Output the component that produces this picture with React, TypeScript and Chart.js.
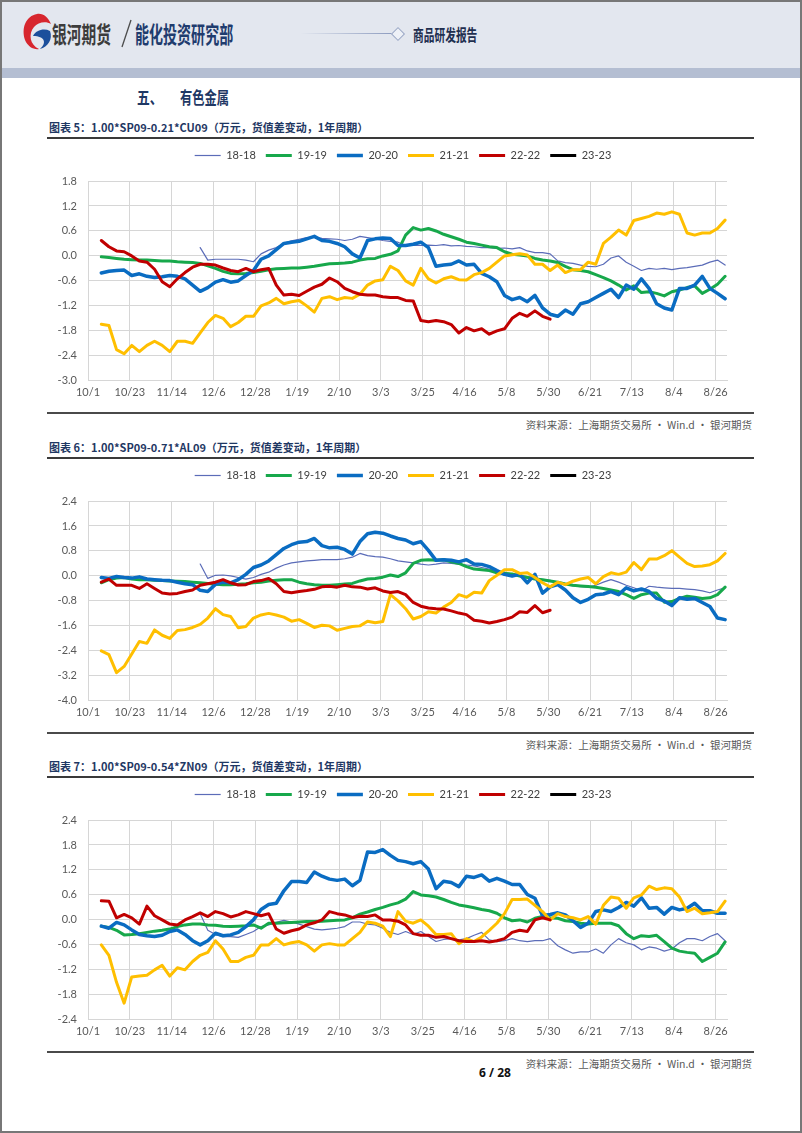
import React, { useEffect, useRef } from "react";
import { Chart, registerables } from "chart.js";

Chart.register(...registerables);

// ---------------- axis data ----------------
// trading-day sample positions, counted in days from 10/1
const DAYS = [
  7, 11, 15, 19, 23, 27, 31, 35, 39, 43,
  47, 51, 55, 59, 63, 67, 71, 75, 79, 83,
  87, 91, 95, 99, 103, 107, 111, 115, 119, 123,
  127, 131, 135, 139, 143, 147, 151, 155, 159, 163,
  167, 171, 175, 179, 183, 187, 191, 195, 199, 203,
  207, 211, 215, 219, 223, 227, 231, 235, 239, 243,
  247, 251, 255, 259, 263, 267, 271, 275, 279, 283,
  287, 291, 295, 299, 303, 307, 311, 315, 319, 323,
  327, 331, 335,
];
const X_TICK_DAYS = [0, 22, 44, 66, 88, 110, 132, 154, 176, 198, 220, 242, 264, 286, 308, 330];
const X_TICK_LABELS = ["10/1", "10/23", "11/14", "12/6", "12/28", "1/19", "2/10", "3/3", "3/25", "4/16", "5/8", "5/30", "6/21", "7/13", "8/4", "8/26"];
const X_MAX = 336;

const CU_Y_TICKS = [-3.0, -2.4, -1.8, -1.2, -0.6, 0.0, 0.6, 1.2, 1.8];
const AL_Y_TICKS = [-4.0, -3.2, -2.4, -1.6, -0.8, 0.0, 0.8, 1.6, 2.4];
const ZN_Y_TICKS = [-2.4, -1.8, -1.2, -0.6, 0.0, 0.6, 1.2, 1.8, 2.4];

const SERIES_NAMES = ["18-18", "19-19", "20-20", "21-21", "22-22", "23-23"];
const SERIES_COLORS = ["#5b6cb8", "#17a84b", "#0a6cc2", "#ffbf00", "#c00000", "#000000"];
const SERIES_WIDTHS = [1.2, 3, 3.5, 3, 3, 3];

// ---------------- chart 5: SP09 - 0.21*CU09 ----------------
const CU_1818 = [
  null, null, null, null, null, null, null, null, null, null, null, null, null,
  0.20, -0.10, -0.08, -0.08, -0.08, -0.08, -0.10, -0.14, 0.05, 0.14,
  0.20, 0.30, 0.36, 0.40, 0.44, 0.45, 0.42, 0.41, 0.40, 0.37,
  0.40, 0.47, 0.44, 0.41, 0.37, 0.35, 0.33, 0.25, 0.25, 0.25,
  0.26, 0.25, 0.27, 0.24, 0.25, 0.23, 0.22, 0.20, 0.20, 0.18,
  0.19, 0.17, 0.20, 0.12, 0.08, 0.08, 0.05, -0.12, -0.16, -0.18,
  -0.22, -0.25, -0.26, -0.20, -0.05, 0.00, -0.15, -0.25, -0.35, -0.30,
  -0.32, -0.30, -0.33, -0.30, -0.28, -0.25, -0.22, -0.15, -0.10, -0.22,
];
const CU_1919 = [
  -0.02, -0.04, -0.06, -0.08, -0.09, -0.10, -0.10, -0.11, -0.12, -0.12,
  -0.14, -0.15, -0.16, -0.18, -0.24, -0.30, -0.37, -0.42, -0.43, -0.42,
  -0.40, -0.37, -0.33, -0.31, -0.30, -0.29, -0.29, -0.27, -0.25, -0.22,
  -0.19, -0.18, -0.17, -0.15, -0.10, -0.07, -0.06, 0.00, 0.04, 0.12,
  0.50, 0.68, 0.62, 0.66, 0.60, 0.52, 0.46, 0.40, 0.33, 0.30,
  0.26, 0.22, 0.20, 0.10, 0.04, 0.02, 0.00, -0.06, -0.10, -0.12,
  -0.16, -0.25, -0.33, -0.35, -0.38, -0.45, -0.52, -0.60, -0.70, -0.82,
  -0.72, -0.88, -0.86, -0.90, -0.96, -0.86, -0.82, -0.76, -0.72, -0.90,
  -0.80, -0.68, -0.49,
];
const CU_2020 = [
  -0.41, -0.37, -0.35, -0.34, -0.47, -0.43, -0.49, -0.52, -0.50, -0.47,
  -0.49, -0.55, -0.70, -0.85, -0.76, -0.63, -0.57, -0.63, -0.60, -0.47,
  -0.35, -0.08, 0.00, 0.15, 0.30, 0.33, 0.35, 0.41, 0.47, 0.37,
  0.35, 0.30, 0.22, 0.05, -0.05, 0.37, 0.41, 0.43, 0.42, 0.25,
  0.25, 0.28, 0.33, 0.20, -0.25, -0.22, -0.20, -0.12, -0.22, -0.20,
  -0.42, -0.50, -0.62, -0.95, -1.05, -1.00, -1.10, -0.95, -1.25, -1.40,
  -1.45, -1.30, -1.40, -1.15, -1.10, -1.00, -0.90, -0.80, -1.00, -0.70,
  -0.80, -0.55, -0.78, -1.15, -1.25, -1.30, -0.78, -0.78, -0.70, -0.49,
  -0.78, -0.90, -1.03,
];
const CU_2121 = [
  -1.64, -1.67, -2.25, -2.35, -2.15, -2.30, -2.15, -2.05, -2.15, -2.30,
  -2.05, -2.05, -2.10, -1.85, -1.60, -1.43, -1.50, -1.70, -1.60, -1.45,
  -1.45, -1.20, -1.13, -1.02, -1.15, -1.10, -1.07, -1.20, -1.35, -1.02,
  -0.98, -1.05, -1.00, -1.02, -0.92, -0.70, -0.60, -0.57, -0.25, -0.35,
  -0.60, -0.70, -0.30, -0.55, -0.65, -0.55, -0.50, -0.57, -0.58, -0.45,
  -0.40, -0.30, -0.15, 0.00, 0.03, 0.05, 0.02, -0.20, -0.20, -0.35,
  -0.22, -0.40, -0.33, -0.33, -0.15, -0.20, 0.30, 0.45, 0.62, 0.50,
  0.85, 0.90, 0.95, 1.03, 1.00, 1.06, 1.00, 0.55, 0.50, 0.55,
  0.55, 0.66, 0.86,
];
const CU_2222 = [
  0.37, 0.22, 0.12, 0.10, 0.00, -0.12, -0.15, -0.32, -0.62, -0.74,
  -0.55, -0.40, -0.27, -0.20, -0.20, -0.22, -0.29, -0.35, -0.38, -0.30,
  -0.38, -0.33, -0.30, -0.70, -0.94, -0.92, -0.95, -0.85, -0.75, -0.68,
  -0.53, -0.62, -0.78, -0.86, -0.92, -0.94, -0.94, -0.98, -1.00, -1.00,
  -1.07, -1.08, -1.55, -1.58, -1.55, -1.58, -1.65, -1.85, -1.72, -1.80,
  -1.75, -1.88, -1.80, -1.75, -1.50, -1.38, -1.45, -1.32, -1.45, -1.52,
  null, null, null, null, null, null, null, null, null, null,
  null, null, null, null, null, null, null, null, null, null,
  null, null, null,
];
const CU_2323: (number | null)[] = [];

// ---------------- chart 6: SP09 - 0.71*AL09 ----------------
const AL_1818 = [
  null, null, null, null, null, null, null, null, null, null, null, null, null,
  0.38, -0.08, 0.02, 0.03, 0.00, -0.05, -0.10, -0.05, 0.05, 0.12,
  0.25, 0.35, 0.42, 0.45, 0.48, 0.50, 0.52, 0.52, 0.52, 0.55,
  0.60, 0.72, 0.65, 0.62, 0.60, 0.55, 0.48, 0.45, 0.42, 0.38,
  0.35, 0.38, 0.42, 0.40, 0.38, 0.35, 0.32, 0.27, 0.22, 0.16,
  0.12, 0.06, 0.02, -0.02, -0.05, -0.12, -0.14, -0.20, -0.28, -0.32,
  -0.34, -0.36, -0.30, -0.20, -0.12, -0.20, -0.30, -0.38, -0.48, -0.33,
  -0.36, -0.38, -0.40, -0.40, -0.42, -0.44, -0.48, -0.54, -0.45, -0.38,
];
const AL_1919 = [
  -0.22, -0.12, -0.07, -0.05, -0.10, -0.12, -0.12, -0.14, -0.15, -0.16,
  -0.17, -0.18, -0.20, -0.22, -0.24, -0.27, -0.28, -0.28, -0.27, -0.25,
  -0.22, -0.20, -0.16, -0.14, -0.12, -0.12, -0.20, -0.25, -0.28, -0.30,
  -0.30, -0.28, -0.26, -0.24, -0.16, -0.10, -0.08, -0.04, 0.03, -0.02,
  0.10, 0.40, 0.50, 0.52, 0.50, 0.52, 0.45, 0.40, 0.30, 0.22,
  0.20, 0.17, 0.10, 0.08, 0.06, 0.00, -0.05, -0.10, -0.12, -0.16,
  -0.20, -0.26, -0.30, -0.32, -0.34, -0.36, -0.40, -0.45, -0.50, -0.60,
  -0.72, -0.60, -0.55, -0.55, -0.84, -0.82, -0.72, -0.65, -0.68, -0.72,
  -0.70, -0.60, -0.36,
];
const AL_2020 = [
  -0.05, -0.08, -0.02, -0.05, -0.07, -0.03, -0.10, -0.12, -0.14, -0.15,
  -0.20, -0.25, -0.28, -0.46, -0.50, -0.27, -0.20, -0.22, -0.12, 0.05,
  0.27, 0.35, 0.48, 0.68, 0.88, 1.00, 1.08, 1.10, 1.20, 0.97,
  0.90, 0.92, 0.85, 0.70, 1.10, 1.35, 1.40, 1.37, 1.28, 1.20,
  1.15, 1.03, 1.10, 0.82, 0.50, 0.52, 0.50, 0.45, 0.52, 0.38,
  0.37, 0.30, 0.17, 0.05, 0.00, 0.05, -0.22, 0.05, -0.55, -0.35,
  -0.28, -0.45, -0.70, -0.85, -0.75, -0.60, -0.58, -0.50, -0.60, -0.38,
  -0.48, -0.42, -0.50, -0.72, -0.80, -0.95, -0.70, -0.75, -0.72, -0.85,
  -0.98, -1.35, -1.40,
];
const AL_2121 = [
  -2.40, -2.52, -3.10, -2.90, -2.50, -2.10, -2.16, -1.73, -1.90, -2.00,
  -1.75, -1.72, -1.65, -1.55, -1.35, -1.05, -1.24, -1.30, -1.66, -1.62,
  -1.35, -1.25, -1.20, -1.25, -1.32, -1.45, -1.40, -1.52, -1.65, -1.58,
  -1.60, -1.74, -1.68, -1.62, -1.60, -1.45, -1.50, -1.46, -0.60, -0.80,
  -1.05, -1.38, -1.30, -1.15, -1.19, -1.00, -0.85, -0.60, -0.68, -0.52,
  -0.55, -0.15, 0.02, 0.20, 0.20, 0.08, 0.10, -0.05, -0.22, -0.35,
  -0.20, -0.28, -0.17, -0.10, -0.05, -0.25, -0.02, 0.10, 0.05, 0.12,
  0.43, 0.20, 0.54, 0.54, 0.65, 0.81, 0.60, 0.40, 0.30, 0.32,
  0.36, 0.48, 0.72,
];
const AL_2222 = [
  -0.20, -0.10, -0.30, -0.30, -0.30, -0.40, -0.25, -0.40, -0.55, -0.58,
  -0.56, -0.50, -0.45, -0.30, -0.25, -0.20, -0.12, -0.22, -0.29, -0.28,
  -0.18, -0.15, -0.08, -0.25, -0.50, -0.54, -0.50, -0.47, -0.43, -0.35,
  -0.33, -0.36, -0.30, -0.35, -0.36, -0.42, -0.38, -0.48, -0.53, -0.50,
  -0.60, -0.85, -0.97, -1.03, -1.05, -1.06, -1.12, -1.19, -1.24, -1.42,
  -1.45, -1.51, -1.46, -1.40, -1.32, -1.15, -1.17, -0.95, -1.18, -1.10,
  null, null, null, null, null, null, null, null, null, null,
  null, null, null, null, null, null, null, null, null, null,
  null, null, null,
];
const AL_2323: (number | null)[] = [];

// ---------------- chart 7: SP09 - 0.54*ZN09 ----------------
const ZN_1818 = [
  null, null, null, null, null, null, null, null, null, null, null, null, null,
  0.15, -0.25, -0.35, -0.40, -0.40, -0.42, -0.35, -0.28, -0.16, -0.12,
  -0.06, -0.01, -0.05, -0.10, -0.16, -0.22, -0.24, -0.22, -0.20, -0.16,
  -0.05, -0.05, -0.10, -0.12, -0.20, -0.30, -0.35, -0.28, -0.35, -0.28,
  -0.40, -0.52, -0.47, -0.45, -0.48, -0.45, -0.37, -0.30, -0.48, -0.52,
  -0.50, -0.45, -0.50, -0.52, -0.50, -0.50, -0.45, -0.62, -0.72, -0.80,
  -0.77, -0.77, -0.70, -0.80, -0.60, -0.45, -0.55, -0.60, -0.72, -0.65,
  -0.68, -0.75, -0.70, -0.55, -0.45, -0.45, -0.50, -0.40, -0.33, -0.50,
];
const ZN_1919 = [
  -0.15, -0.18, -0.25, -0.36, -0.35, -0.33, -0.30, -0.27, -0.25, -0.22,
  -0.16, -0.12, -0.10, -0.10, -0.12, -0.13, -0.15, -0.16, -0.15, -0.14,
  -0.12, -0.20, -0.08, -0.08, -0.07, -0.06, -0.05, -0.04, -0.04, -0.03,
  -0.02, -0.01, 0.00, 0.05, 0.14, 0.19, 0.25, 0.30, 0.36, 0.41,
  0.50, 0.68, 0.60, 0.58, 0.55, 0.49, 0.42, 0.36, 0.33, 0.29,
  0.25, 0.22, 0.16, 0.05, -0.02, 0.00, -0.05, 0.04, 0.08, 0.05,
  0.04, -0.02, -0.04, -0.08, -0.10, -0.08, -0.08, -0.08, -0.14, -0.33,
  -0.45, -0.38, -0.40, -0.37, -0.52, -0.68, -0.75, -0.78, -0.80, -1.00,
  -0.90, -0.80, -0.53,
];
const ZN_2020 = [
  -0.15, -0.20, -0.06, -0.12, -0.24, -0.35, -0.38, -0.40, -0.37, -0.28,
  -0.24, -0.35, -0.50, -0.60, -0.50, -0.32, -0.38, -0.36, -0.30, -0.16,
  0.00, 0.25, 0.37, 0.40, 0.70, 0.92, 0.92, 0.90, 1.15, 1.05,
  0.98, 0.95, 0.98, 0.82, 0.95, 1.63, 1.62, 1.69, 1.55, 1.43,
  1.40, 1.35, 1.40, 1.22, 0.75, 0.93, 0.90, 0.80, 1.05, 1.02,
  1.08, 0.93, 1.00, 0.93, 0.85, 0.85, 0.61, 0.52, 0.10, 0.13,
  0.17, 0.12, -0.02, -0.18, -0.08, 0.20, 0.24, 0.20, 0.30, 0.42,
  0.33, 0.53, 0.28, 0.30, 0.14, 0.30, 0.24, 0.28, 0.40, 0.22,
  0.22, 0.16, 0.16,
];
const ZN_2121 = [
  -0.60, -0.85, -1.50, -2.00, -1.37, -1.35, -1.33, -1.20, -1.09, -1.35,
  -1.15, -1.20, -1.00, -0.85, -0.78, -0.50, -0.70, -1.00, -1.00, -0.90,
  -0.85, -0.60, -0.60, -0.45, -0.60, -0.55, -0.52, -0.60, -0.75, -0.60,
  -0.57, -0.60, -0.60, -0.45, -0.30, -0.05, -0.08, -0.15, -0.40, 0.20,
  -0.03, -0.08, 0.00, -0.15, -0.35, -0.35, -0.33, -0.57, -0.45, -0.52,
  -0.41, -0.25, -0.08, 0.15, 0.49, 0.49, 0.50, 0.35, 0.20, 0.00,
  0.15, 0.08, 0.05, 0.00, 0.08, -0.10, 0.35, 0.55, 0.52, 0.28,
  0.53, 0.60, 0.81, 0.73, 0.77, 0.75, 0.55, 0.20, 0.28, 0.15,
  0.17, 0.20, 0.45,
];
const ZN_2222 = [
  0.46, 0.45, 0.05, 0.13, 0.05, -0.10, 0.33, 0.10, 0.00, -0.10,
  -0.12, 0.00, 0.08, 0.17, 0.08, 0.20, 0.15, 0.07, 0.12, 0.20,
  0.15, 0.10, 0.15, -0.22, -0.32, -0.26, -0.22, -0.12, -0.07, 0.00,
  0.20, 0.15, 0.12, 0.06, 0.09, 0.08, 0.12, 0.00, 0.00, -0.03,
  -0.12, -0.33, -0.37, -0.37, -0.42, -0.40, -0.45, -0.50, -0.52, -0.52,
  -0.50, -0.53, -0.50, -0.45, -0.30, -0.25, -0.28, 0.00, 0.05, 0.00,
  null, null, null, null, null, null, null, null, null, null,
  null, null, null, null, null, null, null, null, null, null,
  null, null, null,
];
const ZN_2323: (number | null)[] = [];

// ---------------- layout ----------------
const CJK = "'Noto Sans CJK SC', 'Noto Sans', sans-serif";
const TICK_FONT = "Lato, 'DejaVu Sans', sans-serif";
const GRID = "#d6d6d6";
const NAVY = "#1f3864";

type Block = { title: string; plotTop: number; yTicks: number[]; series: (number | null)[][] };

const BLOCKS: Block[] = [
  {
    title: "图表 5：1.00*SP09-0.21*CU09（万元，货值差变动，1年周期）",
    plotTop: 181,
    yTicks: CU_Y_TICKS,
    series: [CU_1818, CU_1919, CU_2020, CU_2121, CU_2222, CU_2323],
  },
  {
    title: "图表 6：1.00*SP09-0.71*AL09（万元，货值差变动，1年周期）",
    plotTop: 501,
    yTicks: AL_Y_TICKS,
    series: [AL_1818, AL_1919, AL_2020, AL_2121, AL_2222, AL_2323],
  },
  {
    title: "图表 7：1.00*SP09-0.54*ZN09（万元，货值差变动，1年周期）",
    plotTop: 820,
    yTicks: ZN_Y_TICKS,
    series: [ZN_1818, ZN_1919, ZN_2020, ZN_2121, ZN_2222, ZN_2323],
  },
];

const SOURCE = "资料来源：上海期货交易所 · Win.d · 银河期货";

const CANVAS_LEFT = 40;
const CANVAS_W = 726;
const CANVAS_H = 264;

const legendSpacer = {
  id: "legendSpacer",
  beforeInit(chart: any) {
    const legend = chart.legend;
    if (!legend) return;
    const orig = legend.fit;
    legend.fit = function () {
      orig.call(this);
      this.height += 10;
    };
  },
};

function SpreadChart({ block }: { block: Block }) {
  const ref = useRef<HTMLCanvasElement | null>(null);
  useEffect(() => {
    if (!ref.current) return;
    const yt = block.yTicks;
    const chart = new Chart(ref.current, {
      type: "line",
      data: {
        datasets: SERIES_NAMES.map((name, i) => ({
          label: name,
          data: DAYS.map((d, j) => ({ x: d, y: block.series[i][j] ?? null })),
          borderColor: SERIES_COLORS[i],
          backgroundColor: SERIES_COLORS[i],
          borderWidth: SERIES_WIDTHS[i],
          pointRadius: 0,
          pointHoverRadius: 0,
          tension: 0,
          fill: false,
          spanGaps: false,
          order: SERIES_NAMES.length - i,
          borderJoinStyle: "round",
          borderCapStyle: "round",
          yAxisID: "y",
        })) as any,
      },
      options: {
        animation: false,
        responsive: false,
        maintainAspectRatio: false,
        devicePixelRatio: 1,
        events: [],
        layout: { padding: { left: 0, right: 0, top: 0, bottom: 0 } },
        plugins: {
          legend: {
            display: true,
            position: "top",
            align: "center",
            labels: {
              usePointStyle: true,
              pointStyleWidth: 26,
              padding: 10,
              color: "#404040",
              font: { family: TICK_FONT, size: 11 },
              generateLabels: (c: any) =>
                c.data.datasets.map((ds: any, i: number) => ({
                  text: ds.label,
                  fillStyle: ds.borderColor,
                  strokeStyle: ds.borderColor,
                  lineWidth: ds.borderWidth,
                  pointStyle: "line",
                  hidden: false,
                  datasetIndex: i,
                  fontColor: "#404040",
                  lineCap: "butt",
                })),
            },
          },
          tooltip: { enabled: false },
          title: { display: false },
        },
        scales: {
          x: {
            type: "linear",
            min: 0,
            max: X_MAX,
            afterBuildTicks: (s: any) => {
              s.ticks = X_TICK_DAYS.map((v) => ({ value: v }));
            },
            ticks: {
              autoSkip: false,
              maxRotation: 0,
              minRotation: 0,
              padding: 5,
              color: "#595959",
              font: { family: TICK_FONT, size: 11 },
              callback: (v: any) => {
                const k = X_TICK_DAYS.indexOf(Number(v));
                return k >= 0 ? X_TICK_LABELS[k] : "";
              },
            },
            grid: { color: GRID, lineWidth: 1, drawTicks: false },
            border: { color: GRID, width: 1 },
          },
          y: {
            type: "linear",
            position: "left",
            min: yt[0],
            max: yt[yt.length - 1],
            afterBuildTicks: (s: any) => {
              s.ticks = yt.map((v) => ({ value: v }));
            },
            afterFit: (s: any) => {
              s.width = 48;
            },
            ticks: {
              padding: 11,
              color: "#595959",
              font: { family: TICK_FONT, size: 11 },
              callback: (v: any) => Number(v).toFixed(1),
            },
            grid: { color: GRID, lineWidth: 1, drawTicks: false },
            border: { color: GRID, width: 1 },
          },
          // empty right-hand spacer so the full-width legend is centred like the original
          spacer: {
            type: "linear",
            position: "right",
            display: true,
            min: 0,
            max: 1,
            ticks: { display: false },
            grid: { display: false, drawOnChartArea: false, drawTicks: false },
            border: { display: false },
            afterFit: (s: any) => {
              s.width = 39;
            },
          },
        },
      } as any,
      plugins: [legendSpacer as any],
    });
    return () => chart.destroy();
  }, [block]);
  return (
    <canvas
      ref={ref}
      width={CANVAS_W}
      height={CANVAS_H}
      style={{ position: "absolute", left: CANVAS_LEFT, top: block.plotTop - 41, width: CANVAS_W, height: CANVAS_H }}
    />
  );
}

function Txt(props: {
  x?: number;
  right?: number;
  cy: number;
  size: number;
  color: string;
  bold?: boolean;
  sx?: number;
  family?: string;
  children: React.ReactNode;
}) {
  const { x, right, cy, size, color, bold, sx = 1, family = CJK, children } = props;
  const lh = Math.round(size * 1.4);
  const style: React.CSSProperties = {
    position: "absolute",
    top: cy - lh / 2,
    height: lh,
    lineHeight: lh + "px",
    fontSize: size,
    fontWeight: bold ? 700 : 400,
    color,
    fontFamily: family,
    whiteSpace: "nowrap",
  };
  if (x !== undefined) style.left = x;
  if (right !== undefined) {
    style.right = right;
    style.textAlign = "right";
  }
  if (sx !== 1) {
    style.transform = `scaleX(${sx})`;
    style.transformOrigin = x !== undefined ? "left center" : "right center";
  }
  return <div style={style}>{children}</div>;
}

function ChartBlock({ block }: { block: Block }) {
  const t = block.plotTop;
  return (
    <>
      <Txt x={49} cy={t - 54} size={11} bold color={NAVY}>
        {block.title}
      </Txt>
      <div style={{ position: "absolute", left: 47, top: t - 44, width: 707, height: 1.5, background: "#3a3a3a" }} />
      <SpreadChart block={block} />
      <div style={{ position: "absolute", left: 47, top: t + 231, width: 707, height: 1.5, background: "#4a4a4a" }} />
      <Txt right={50} cy={t + 243} size={10.5} color="#595959">
        {SOURCE}
      </Txt>
    </>
  );
}

function Logo() {
  return (
    <svg style={{ position: "absolute", left: 20, top: 12 }} width={34} height={40} viewBox="0 0 34 40">
      <path d="M17 2 C 6 4, 1 16, 5 28 C 8 35, 14 38, 19 37 C 10 33, 8 22, 14 15 C 18 10, 26 9, 31 12 C 28 5, 23 1, 17 2 Z" fill="#d7262e" />
      <path d="M13 24 C 16 18, 24 16, 30 19 C 33 27, 28 35, 20 37 C 27 31, 25 24, 13 24 Z" fill="#1b4f9c" />
    </svg>
  );
}

export default function App() {
  return (
    <div
      style={{
        position: "absolute",
        left: 0,
        top: 0,
        width: 802,
        height: 1133,
        background: "#ffffff",
        overflow: "hidden",
        fontFamily: CJK,
      }}
    >
      <div style={{ position: "absolute", left: 0, top: 0, width: 802, height: 68, background: "#e3e7ef" }} />
      <div style={{ position: "absolute", left: 0, top: 68, width: 802, height: 10, background: "#b4bed2" }} />
      <Logo />
      <Txt x={52} cy={33} size={23} sx={0.64} bold color="#3c3c3c">
        银河期货
      </Txt>
      <svg style={{ position: "absolute", left: 118, top: 18 }} width={16} height={32}>
        <line x1={13} y1={2} x2={4} y2={29} stroke="#4a4a4a" strokeWidth={1.3} />
      </svg>
      <Txt x={135} cy={33} size={23} sx={0.61} bold color="#1f3c6e">
        能化投资研究部
      </Txt>
      <div
        style={{
          position: "absolute",
          left: 300,
          top: 32.5,
          width: 92,
          height: 1.5,
          background: "linear-gradient(to right, rgba(150,165,200,0), #8e9dc0)",
        }}
      />
      <div
        style={{
          position: "absolute",
          left: 393,
          top: 28.5,
          width: 8,
          height: 8,
          border: "1px solid #98a6c4",
          background: "#eef1f7",
          transform: "rotate(45deg)",
        }}
      />
      <Txt x={413} cy={34} size={16} sx={0.67} bold color="#1f2f4f">
        商品研发报告
      </Txt>
      <Txt x={137} cy={97} size={17} sx={0.75} bold color={NAVY}>
        五、
      </Txt>
      <Txt x={180} cy={97} size={17} sx={0.72} bold color={NAVY}>
        有色金属
      </Txt>
      {BLOCKS.map((b, i) => (
        <ChartBlock key={i} block={b} />
      ))}
      <div
        style={{
          position: "absolute",
          left: 445,
          top: 1064,
          width: 100,
          height: 18,
          lineHeight: "18px",
          textAlign: "center",
          fontSize: 12,
          fontWeight: 700,
          color: "#111",
          fontFamily: "'Noto Sans', " + CJK,
        }}
      >
        6 / 28
      </div>
      <div
        style={{
          position: "absolute",
          left: 0,
          top: 0,
          width: 802,
          height: 1133,
          boxSizing: "border-box",
          border: "2px solid #777777",
          pointerEvents: "none",
        }}
      />
    </div>
  );
}
